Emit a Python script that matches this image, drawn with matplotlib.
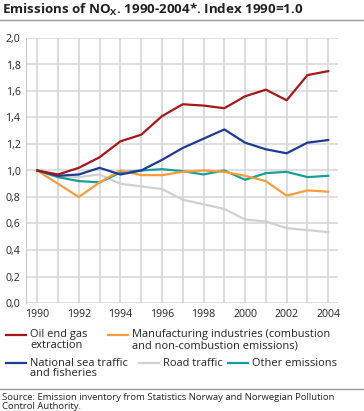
import matplotlib
matplotlib.use('Agg')
import matplotlib.pyplot as plt
from matplotlib.lines import Line2D

plt.rcParams['font.family'] = ['Open Sans', 'DejaVu Sans']

years = list(range(1990, 2005))
oil_gas = [1.00, 0.97, 1.02, 1.10, 1.22, 1.27, 1.41, 1.50, 1.49, 1.47, 1.56, 1.61, 1.53, 1.72, 1.75]
manufacturing = [1.00, 0.90, 0.80, 0.91, 1.00, 0.965, 0.965, 0.99, 1.00, 0.99, 0.96, 0.92, 0.81, 0.85, 0.84]
sea_traffic = [1.00, 0.96, 0.97, 1.02, 0.97, 1.00, 1.08, 1.17, 1.24, 1.31, 1.21, 1.16, 1.13, 1.21, 1.23]
road_traffic = [1.00, 0.96, 0.95, 0.97, 0.90, 0.88, 0.86, 0.78, 0.745, 0.71, 0.63, 0.615, 0.565, 0.55, 0.535]
other = [1.00, 0.95, 0.92, 0.91, 0.985, 1.00, 1.01, 0.995, 0.97, 1.00, 0.93, 0.98, 0.99, 0.95, 0.96]

labels = ['Oil end gas\nextraction',
          'Manufacturing industries (combustion\nand non-combustion emissions)',
          'National sea traffic\nand fisheries',
          'Road traffic',
          'Other emissions']
colors = ['#a6171c', '#f79e3b', '#1d3a96', '#d0d0d0', '#1a9e9a']
series = [oil_gas, manufacturing, sea_traffic, road_traffic, other]

W, H = 364, 411
fig = plt.figure(figsize=(W / 100, H / 100), dpi=100)
ax = fig.add_axes([26 / W, 1 - 303 / H, 312 / W, 265 / H])

# draw order: background lines first
for i in [3, 4, 1, 2, 0]:
    ax.plot(years, series[i], color=colors[i], lw=1.6, solid_joinstyle='round', zorder=3)

ax.set_xlim(1989.46, 2004.47)
ax.set_ylim(0, 2.0)
ax.set_xticks(years, minor=True)
ax.set_xticks(years[::2])
ax.set_yticks([i * 0.2 for i in range(11)])
ax.set_yticklabels([f'{i * 0.2:.1f}'.replace('.', ',') for i in range(11)])
ax.grid(True, which='both', axis='x', color='#dcdcdc', lw=1.4)
ax.grid(True, axis='y', color='#d6d6d6', lw=1.1)
ax.tick_params(which='both', length=0, labelsize=7.6, colors='#222222')
ax.tick_params(axis='x', pad=4)
ax.tick_params(axis='y', pad=4)
for s in ['top', 'right', 'bottom']:
    ax.spines[s].set_visible(False)
ax.spines['left'].set_color('#c8c8c8')
ax.set_axisbelow(True)

# title
fig.text(2 / W, 1 - 10 / H, r'Emissions of NO$_\mathregular{X}$. 1990-2004*. Index 1990=1.0',
         fontsize=9.6, fontweight='bold', va='center', ha='left', color='#222222')
fig.add_artist(Line2D([0, 1], [1 - 20.5 / H] * 2, color='#9a9a9a', lw=1))

# legend, laid out by hand
legend_pos = [(6, 335), (108, 335), (6, 363), (139, 363), (228, 363)]
for (x, y), lab, c in zip(legend_pos, labels, colors):
    fig.add_artist(Line2D([x / W, (x + 20) / W], [1 - y / H] * 2, color=c, lw=1.6))
    fig.text((x + 24) / W, 1 - (y - 5.5) / H, lab, fontsize=7.9, va='top', ha='left',
             color='#222222', linespacing=0.95)

fig.add_artist(Line2D([0, 1], [1 - 389 / H] * 2, color='#9a9a9a', lw=1))
fig.text(2 / W, 1 - 393 / H,
         'Source: Emission inventory from Statistics Norway and Norwegian Pollution\nControl Authority.',
         fontsize=6.8, va='top', ha='left', color='#222222', linespacing=0.98)

fig.savefig('out.png', dpi=100)
